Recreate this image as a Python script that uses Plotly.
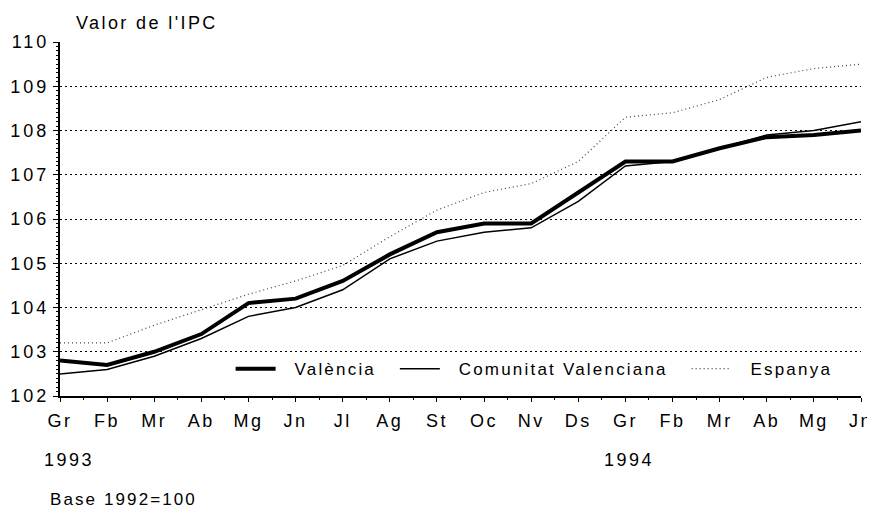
import plotly.graph_objects as go

months = ["Gr", "Fb", "Mr", "Ab", "Mg", "Jn", "Jl", "Ag", "St", "Oc", "Nv", "Ds",
          "Gr", "Fb", "Mr", "Ab", "Mg", "Jn"]
valencia = [102.8, 102.7, 103.0, 103.4, 104.1, 104.2, 104.6, 105.2, 105.7, 105.9, 105.9, 106.6,
            107.3, 107.3, 107.6, 107.85, 107.9, 108.0]
comunitat = [102.5, 102.6, 102.9, 103.3, 103.8, 104.0, 104.4, 105.1, 105.5, 105.7, 105.8, 106.4,
             107.2, 107.3, 107.6, 107.9, 108.0, 108.2]
espanya = [103.2, 103.2, 103.6, 103.95, 104.3, 104.6, 104.95, 105.6, 106.2, 106.6, 106.8, 107.3,
           108.3, 108.4, 108.7, 109.2, 109.4, 109.5]
y_ticks = [102, 103, 104, 105, 106, 107, 108, 109, 110]

x = list(range(len(months)))
font = "Arial, Liberation Sans, sans-serif"


def spaced(text, px):
    # the original uses wide letter spacing
    return f'<span style="letter-spacing:{px}px">{text}</span>'


pad = "\u00a0\u00a0"


def legend_name(text):
    return spaced(pad + text + pad, 2.2)


fig = go.Figure()
fig.add_trace(go.Scatter(x=x, y=valencia, name=legend_name("València"), mode="lines",
                         line=dict(color="black", width=4)))
fig.add_trace(go.Scatter(x=x, y=comunitat, name=legend_name("Comunitat Valenciana"), mode="lines",
                         line=dict(color="black", width=1.5)))
fig.add_trace(go.Scatter(x=x, y=espanya, name=legend_name("Espanya"), mode="lines",
                         line=dict(color="#444444", width=1.2, dash="1px,3px")))

# page body has an 8px margin, so the figure is 8px smaller and margins shifted
fig.update_layout(
    width=867, height=500,
    margin=dict(l=52, r=14, t=34, b=112),
    plot_bgcolor="white", paper_bgcolor="white",
    font=dict(family=font, size=17, color="black"),
    showlegend=True,
    legend=dict(orientation="h", x=0.213, y=0.025, xanchor="left", yanchor="bottom",
                bgcolor="rgba(0,0,0,0)", font=dict(size=17), itemwidth=40,
                traceorder="normal"),
)

fig.update_xaxes(
    range=[0, len(months) - 1], tickmode="array", tickvals=x,
    ticktext=[spaced(m, 2.5) for m in months], automargin=False,
    showline=True, linecolor="black", linewidth=1.5,
    ticks="outside", ticklen=4, tickcolor="black", ticklabelstandoff=4,
    minor=dict(ticks="outside", ticklen=2, nticks=10, tickcolor="black"),
    showgrid=False, zeroline=False, tickfont=dict(size=18),
)
fig.update_yaxes(
    range=[102, 110], tickmode="array", tickvals=y_ticks,
    ticktext=[spaced(str(v), 3) for v in y_ticks], automargin=False,
    showline=True, linecolor="black", linewidth=2,
    ticks="outside", ticklen=5, tickcolor="black",
    minor=dict(ticks="outside", ticklen=2, dtick=0.1, tickcolor="black"),
    showgrid=True, gridcolor="black", gridwidth=1, griddash="2px,3px",
    zeroline=False, tickfont=dict(size=18),
)

fig.add_annotation(text=spaced("Valor de l'IPC", 2.4), xref="paper", yref="paper", x=0.018, y=1.0,
                   yshift=7, xanchor="left", yanchor="bottom", showarrow=False,
                   font=dict(size=18))
fig.add_annotation(text=spaced("1993", 2.5), xref="x", yref="paper", x=0, y=-0.181,
                   yanchor="middle", showarrow=False, font=dict(size=18), xshift=9)
fig.add_annotation(text=spaced("1994", 2.5), xref="x", yref="paper", x=12, y=-0.181,
                   yanchor="middle", showarrow=False, font=dict(size=18), xshift=4)
fig.add_annotation(text=spaced("Base 1992=100", 2.1), xref="paper", yref="paper", x=-0.015, y=-0.293,
                   xanchor="left", yanchor="middle", showarrow=False, font=dict(size=17))

fig.write_html("out.html")
